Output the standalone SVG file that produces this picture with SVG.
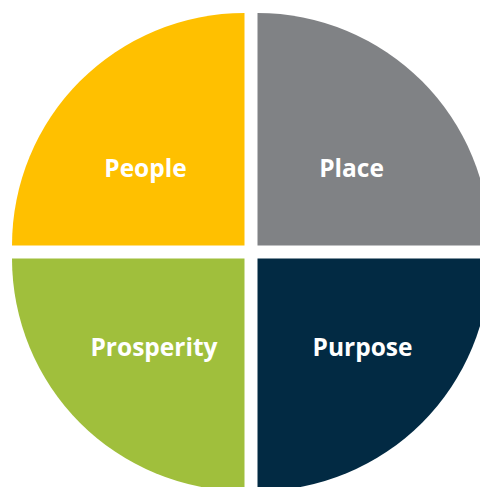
<svg xmlns="http://www.w3.org/2000/svg" width="480" height="487" viewBox="0 0 480 487">
<style>
.lbl{font-family:"Open Sans","Liberation Sans",sans-serif;font-weight:bold;font-size:24.5px;fill:#ffffff;text-anchor:middle}
</style>
<rect width="480" height="487" fill="#ffffff"/>
<g id="people">
<path d="M244.5,245.5 L12,245.5 A232.5,232.5 0 0 1 244.5,13 Z" fill="#FFC000"/>
<text class="lbl" x="145.5" y="177">People</text>
</g>
<g id="place">
<path d="M257.5,245.5 L257.5,13 A232.5,232.5 0 0 1 490,245.5 Z" fill="#808285"/>
<text class="lbl" x="351.5" y="177">Place</text>
</g>
<g id="prosperity">
<path d="M244.5,258.5 L244.5,491 A232.5,232.5 0 0 1 12,258.5 Z" fill="#A0BF3C"/>
<text class="lbl" x="154" y="356">Prosperity</text>
</g>
<g id="purpose">
<path d="M257.5,258.5 L490,258.5 A232.5,232.5 0 0 1 257.5,491 Z" fill="#022A43"/>
<text class="lbl" x="362.5" y="356">Purpose</text>
</g>
<g id="connectors"/>
</svg>
